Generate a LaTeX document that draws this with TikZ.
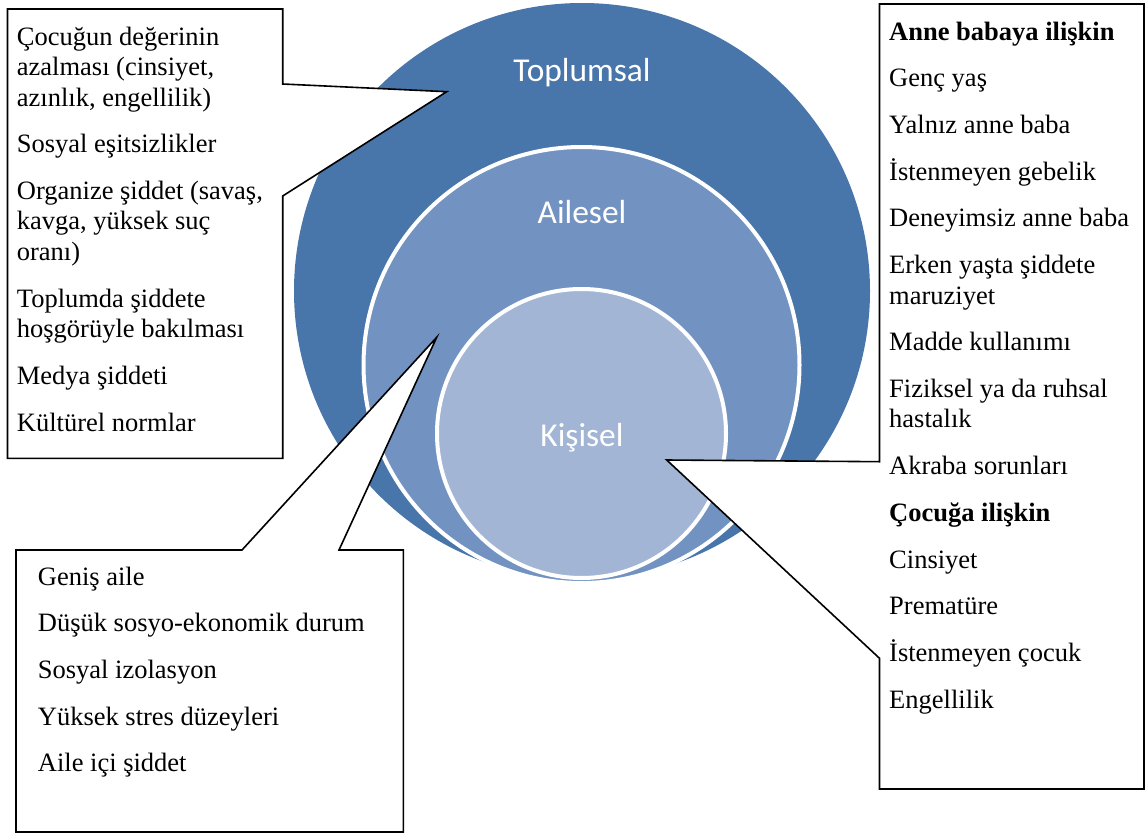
\documentclass[tikz,border=0pt]{standalone}
\usepackage{fontspec}
\setmainfont{Liberation Serif}
\newfontfamily\lblfont{Carlito}
\definecolor{ringA}{HTML}{4875AA}
\definecolor{ringB}{HTML}{7293C2}
\definecolor{ringC}{HTML}{A2B5D5}
\tikzset{
  item/.style={anchor=base west, inner sep=0pt, font=\fontsize{26.5}{30.5}\selectfont},
  bolditem/.style={anchor=base west, inner sep=0pt, font=\fontsize{26.5}{30.5}\selectfont\bfseries},
  lvl/.style={anchor=base, inner sep=0pt, text=white, font=\lblfont\fontsize{33.4}{40}\selectfont},
  disc/.style={circle, inner sep=0pt, draw=white, line width=4pt},
  callout/.style={draw=black, fill=white, line width=1.6pt, line join=miter}
}
\begin{document}
\begin{tikzpicture}[x=1pt, y=-1pt]
\useasboundingbox (0,0) rectangle (1146,835);
% circles
\node[circle, inner sep=0pt, fill=ringA, minimum size=576pt] (outer) at (582,291) {};
\node[disc, fill=ringB, minimum size=436pt] (middle) at (581.5,365) {};
\node[disc, fill=ringC, minimum size=289pt] (inner) at (581.5,433.5) {};
\node[lvl] (lblT) at (582,81.5) {Toplumsal};
\node[lvl] (lblA) at (582,223) {Ailesel};
\node[lvl] (lblK) at (582,446) {Kişisel};
% callout tips
\coordinate (tipT) at (446.7,91.7);
\coordinate (tipA) at (436.7,337.3);
\coordinate (tipK) at (666.7,460);
% left top callout
\draw[callout] (7.5,9) -- (282.7,9) -- (282.7,84) -- (tipT) -- (282.7,196) -- (282.7,458.3) -- (7.5,458.3) -- cycle;
% bottom left callout
\draw[callout] (16,550) -- (242,550) -- (tipA) -- (339,550) -- (403.3,550) -- (403.3,832) -- (16,832) -- cycle;
% right callout
\draw[callout] (879.5,4) -- (1144,4) -- (1144,789) -- (879.5,789) -- (879.5,658.3) -- (tipK) -- (879.5,461.7) -- cycle;
% left top texts
\node[item] (t1) at (16.7,45) {Çocuğun değerinin};
\node[item] (t2) at (16.7,75.5) {azalması (cinsiyet,};
\node[item] (t3) at (16.7,106) {azınlık, engellilik)};
\node[item] (t4) at (16.7,152.7) {Sosyal eşitsizlikler};
\node[item] (t5) at (16.7,199.4) {Organize şiddet (savaş,};
\node[item] (t6) at (16.7,229.9) {kavga, yüksek suç};
\node[item] (t7) at (16.7,260.4) {oranı)};
\node[item] (t8) at (16.7,307.1) {Toplumda şiddete};
\node[item] (t9) at (16.7,337.6) {hoşgörüyle bakılması};
\node[item] (t10) at (16.7,384.3) {Medya şiddeti};
\node[item] (t11) at (16.7,431) {Kültürel normlar};
% bottom left texts
\node[item] (a1) at (37.7,585) {Geniş aile};
\node[item] (a2) at (37.7,631.7) {Düşük sosyo-ekonomik durum};
\node[item] (a3) at (37.7,678.4) {Sosyal izolasyon};
\node[item] (a4) at (37.7,725.1) {Yüksek stres düzeyleri};
\node[item] (a5) at (37.7,771.8) {Aile içi şiddet};
% right texts
\node[bolditem] (k1) at (889,40) {Anne babaya ilişkin};
\node[item] (k2) at (889,86.7) {Genç yaş};
\node[item] (k3) at (889,133.4) {Yalnız anne baba};
\node[item] (k4) at (889,180.1) {İstenmeyen gebelik};
\node[item] (k5) at (889,226.8) {Deneyimsiz anne baba};
\node[item] (k6) at (889,273.5) {Erken yaşta şiddete};
\node[item] (k7) at (889,304) {maruziyet};
\node[item] (k8) at (889,350.7) {Madde kullanımı};
\node[item] (k9) at (889,397.4) {Fiziksel ya da ruhsal};
\node[item] (k10) at (889,427.9) {hastalık};
\node[item] (k11) at (889,474.6) {Akraba sorunları};
\node[bolditem] (k12) at (889,521.3) {Çocuğa ilişkin};
\node[item] (k13) at (889,568) {Cinsiyet};
\node[item] (k14) at (889,614.7) {Prematüre};
\node[item] (k15) at (889,661.4) {İstenmeyen çocuk};
\node[item] (k16) at (889,708.1) {Engellilik};
\end{tikzpicture}
\end{document}
